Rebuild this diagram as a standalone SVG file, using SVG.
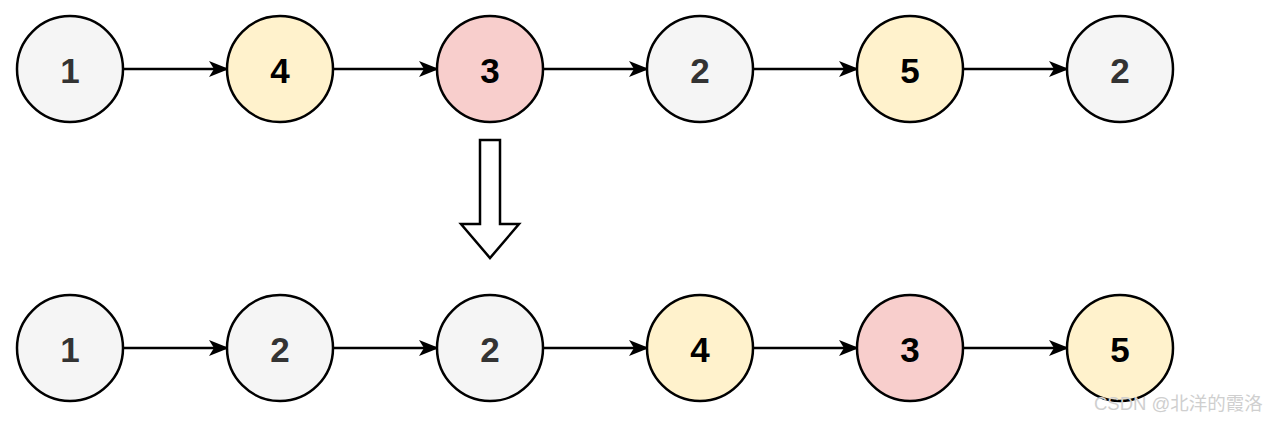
<svg xmlns="http://www.w3.org/2000/svg" width="1280" height="421" viewBox="0 0 1280 421">
<style>
.n circle{stroke:#000;stroke-width:2.5}
.g{fill:#f5f5f5}.y{fill:#fff2cc}.r{fill:#f8cecc}
.n text{font-family:"Liberation Sans",Arial,sans-serif;font-weight:bold;font-size:35px;text-anchor:middle;dominant-baseline:central}
.tg{fill:#333}.tb{fill:#000}
.e line{stroke:#000;stroke-width:2.3}
.wm{font-family:"Liberation Sans","Noto Sans CJK SC",sans-serif;font-size:18.5px;fill:#cfcfcf}
</style>
<defs>
<marker id="ah" markerWidth="20" markerHeight="18" refX="19" refY="9" orient="auto" markerUnits="userSpaceOnUse">
<path d="M0,1 L20,9 L0,17 L5,9 Z" fill="#000"/>
</marker>
</defs>
<rect width="1280" height="421" fill="#fff"/>
<g id="edges" class="e">
<line x1="124" y1="69" x2="228" y2="69" marker-end="url(#ah)"/>
<line x1="334" y1="69" x2="438" y2="69" marker-end="url(#ah)"/>
<line x1="544" y1="69" x2="648" y2="69" marker-end="url(#ah)"/>
<line x1="754" y1="69" x2="858" y2="69" marker-end="url(#ah)"/>
<line x1="964" y1="69" x2="1068" y2="69" marker-end="url(#ah)"/>
<line x1="124" y1="348" x2="228" y2="348" marker-end="url(#ah)"/>
<line x1="334" y1="348" x2="438" y2="348" marker-end="url(#ah)"/>
<line x1="544" y1="348" x2="648" y2="348" marker-end="url(#ah)"/>
<line x1="754" y1="348" x2="858" y2="348" marker-end="url(#ah)"/>
<line x1="964" y1="348" x2="1068" y2="348" marker-end="url(#ah)"/>
</g>
<g id="bigarrow">
<path d="M480,140 L500,140 L500,224 L519,224 L490,258 L461,224 L480,224 Z" fill="#fff" stroke="#000" stroke-width="2.5" stroke-linejoin="miter"/>
</g>
<g id="t1" class="n"><circle class="g" cx="70" cy="69" r="53"/><text class="tg" x="70" y="70">1</text></g>
<g id="t2" class="n"><circle class="y" cx="280" cy="69" r="53"/><text class="tb" x="280" y="70">4</text></g>
<g id="t3" class="n"><circle class="r" cx="490" cy="69" r="53"/><text class="tb" x="490" y="70">3</text></g>
<g id="t4" class="n"><circle class="g" cx="700" cy="69" r="53"/><text class="tg" x="700" y="70">2</text></g>
<g id="t5" class="n"><circle class="y" cx="910" cy="69" r="53"/><text class="tb" x="910" y="70">5</text></g>
<g id="t6" class="n"><circle class="g" cx="1120" cy="69" r="53"/><text class="tg" x="1120" y="70">2</text></g>
<g id="b1" class="n"><circle class="g" cx="70" cy="348" r="53"/><text class="tg" x="70" y="349">1</text></g>
<g id="b2" class="n"><circle class="g" cx="280" cy="348" r="53"/><text class="tg" x="280" y="349">2</text></g>
<g id="b3" class="n"><circle class="g" cx="490" cy="348" r="53"/><text class="tg" x="490" y="349">2</text></g>
<g id="b4" class="n"><circle class="y" cx="700" cy="348" r="53"/><text class="tb" x="700" y="349">4</text></g>
<g id="b5" class="n"><circle class="r" cx="910" cy="348" r="53"/><text class="tb" x="910" y="349">3</text></g>
<g id="b6" class="n"><circle class="y" cx="1120" cy="348" r="53"/><text class="tb" x="1120" y="349">5</text></g>
<text class="wm" x="1094" y="410">CSDN @北洋的霞洛</text>
</svg>
